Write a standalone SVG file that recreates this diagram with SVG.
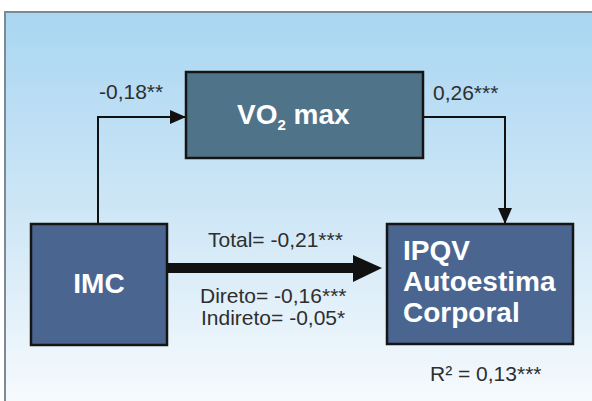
<svg xmlns="http://www.w3.org/2000/svg" width="592" height="401" viewBox="0 0 592 401">
  <defs>
    <linearGradient id="bg" x1="0" y1="0" x2="0" y2="1">
      <stop offset="0" stop-color="#a9d6f2"/>
      <stop offset="0.5" stop-color="#cde6f6"/>
      <stop offset="1" stop-color="#f6fafd"/>
    </linearGradient>
    <marker id="ah" viewBox="0 0 16 14" refX="16" refY="7" markerWidth="16" markerHeight="14" markerUnits="userSpaceOnUse" orient="auto">
      <path d="M0,0 L16,7 L0,14 Z" fill="#111"/>
    </marker>
  </defs>
  <style>
    .box { stroke: #151515; stroke-width: 2.5; }
    .dark { fill: #4a6690; }
    .teal { fill: #4f7389; }
    .bt { font-family: "Liberation Sans", Arial, sans-serif; font-weight: bold; font-size: 28px; fill: #ffffff; }
    .lbl { font-family: "Liberation Sans", Arial, sans-serif; font-size: 21px; fill: #2e2e2e; }
    .conn { fill: none; stroke: #111; stroke-width: 2; }
  </style>
  <rect x="0" y="0" width="592" height="401" fill="#ffffff"/>
  <rect x="5" y="12" width="587" height="389" fill="url(#bg)"/>
  <path d="M5,401 V12 H592" fill="none" stroke="#7d8a94" stroke-width="2"/>

  <g id="connectors">
    <path class="conn" d="M98,224 V117 H186" marker-end="url(#ah)"/>
    <path class="conn" d="M423,117 H505 V224" marker-end="url(#ah)"/>
    <rect x="167" y="263" width="187" height="10" fill="#111"/>
    <polygon points="353,255 382,268 353,282" fill="#111"/>
  </g>

  <g id="vo2max">
    <rect class="box teal" x="186" y="72" width="237" height="86"/>
    <text class="bt" x="237" y="124">VO<tspan font-size="15" dy="6">2</tspan><tspan dy="-6"> max</tspan></text>
  </g>

  <g id="imc">
    <rect class="box dark" x="31" y="224" width="136" height="121"/>
    <text class="bt" x="99" y="293" text-anchor="middle">IMC</text>
  </g>

  <g id="ipqv">
    <rect class="box dark" x="387" y="224" width="186" height="120"/>
    <text class="bt" x="403" y="260">IPQV</text>
    <text class="bt" x="403" y="291">Autoestima</text>
    <text class="bt" x="403" y="322">Corporal</text>
  </g>

  <g id="labels">
    <text class="lbl" x="99" y="99">-0,18**</text>
    <text class="lbl" x="433" y="100">0,26***</text>
    <text class="lbl" x="208" y="247">Total= -0,21***</text>
    <text class="lbl" x="200" y="303">Direto= -0,16***</text>
    <text class="lbl" x="201" y="325" font-size="20">Indireto= -0,05*</text>
    <text class="lbl" x="430" y="381">R² = 0,13***</text>
  </g>
</svg>
